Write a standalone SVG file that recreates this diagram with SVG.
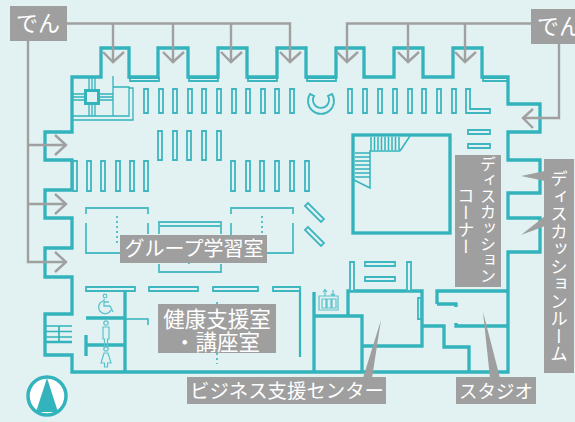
<svg xmlns="http://www.w3.org/2000/svg" width="575" height="422" viewBox="0 0 575 422">
<style>
.w{fill:none;stroke:#33b3bc;stroke-width:3.300}
.t{fill:none;stroke:#33b3bc;stroke-width:1.300}
.i{fill:none;stroke:#5cc3ca;stroke-width:1.200}
.r{fill:none;stroke:#4dbcc4;stroke-width:1.800}
.s{fill:#e2f1f2;stroke:#3db6bf;stroke-width:1.800}
.c{fill:none;stroke:#a0a0a0;stroke-width:2.400}
.b{fill:#9f9f9f}
.l{fill:#fff;font-family:"Noto Sans CJK JP","Noto Sans",sans-serif;font-size:19.500px;text-anchor:middle}
.v{writing-mode:vertical-rl;text-anchor:start;font-size:17.500px}
</style>
<rect width="575" height="422" fill="#e2f1f2"/>
<g id="walls">
<path class="s" d="M130 78h29v3h-29zM189 78h29v3h-29zM248 78h29v3h-29zM307 78h29v3h-29zM483 78h25v3h-25z"/>
<path class="w" d="M101 77V48H129V77H158V48H188V77H218V48H247V77H277V48H306V77H336V48H364V77H394V48H423V77H453V48H482V77H508V104H540V132H508V160H540V193H508V218H540V252H508V372H72V355H45V314H72V277H45V248H72V218H45V190H72V160H45V132H72V77Z"/>
<rect class="w" x="353" y="135" width="97" height="98"/>
<path class="w" d="M314 292V372M314 316H362V372M348 316V291H422V346H362M422 326H444V347H469V372M437 304V291H508M437 304H456V307M456 323V326H508"/>
<path class="w" d="M125 290V372M86 318H125M86 345H125M86 335V356"/>
<path class="t" style="stroke-width:1.500" d="M125 319H148V325"/>
<path class="w" style="stroke-width:2.200" d="M300 287V357"/>
</g>
<g id="shelves">
<path class="s" d="M144 89h4v24h-4zM159 89h4v24h-4zM173 89h4v24h-4zM188 89h4v24h-4zM202 89h4v24h-4zM217 89h4v24h-4zM232 89h4v24h-4zM246 89h4v24h-4zM261 89h4v24h-4zM275 89h4v24h-4zM290 89h4v24h-4z"/>
<path class="s" d="M348 89h4v24h-4zM363 89h4v24h-4zM378 89h4v24h-4zM393 89h4v24h-4zM408 89h4v24h-4zM422 89h4v24h-4zM437 89h4v24h-4zM452 89h4v24h-4zM466 89h4v20h20v4h-24z"/>
<path class="s" d="M158 131h4v29h-4zM173 131h4v29h-4zM187 131h4v29h-4zM202 131h4v29h-4zM217 131h4v29h-4z"/>
<path class="s" d="M73 161h4v30h-4zM87 161h4v30h-4zM101 161h4v30h-4zM116 161h4v30h-4zM130 161h4v30h-4zM144 161h4v30h-4z"/>
<path class="s" d="M231 161h4v30h-4zM246 161h4v30h-4zM260 161h4v30h-4zM275 161h4v30h-4zM290 161h4v30h-4zM305 161h4v30h-4z"/>
<path class="s" d="M468 130h22v4h-22zM468 144h22v4h-22z"/>
<path class="s" d="M305 206l3-3 16 16-3 3zM305 230l3-3 16 16-3 3z"/>
<path class="s" d="M350 262h4v29h-4zM407 262h4v29h-4zM365 262h30v4h-30zM365 277h30v4h-30zM418 298h3v21h-3z"/>
<path class="s" d="M86 287h49v4h-49zM149 287h49v4h-49zM213 287h45v4h-45zM273 287h27v4h-27z"/>
<path class="s" d="M310 94A13 13 0 1 0 332 94L328 96A8 8 0 1 1 314 96Z"/>
</g>
<g id="core">
<path class="t" d="M73 120H133V88H129M73 116H129V87H113M113 76V116"/>
<path class="t" d="M73 94H84M73 97H84M73 100H84M100 94H113M100 97H113M100 100H113M89 78V89M92 78V89M95 78V89M89 105V116M92 105V116M95 105V116"/>
<rect x="85.500" y="90.500" width="13" height="13" fill="#e2f1f2" stroke="#33b3bc" stroke-width="3"/>
<path class="t" style="stroke-width:1.500" d="M355 153H370M355 157H370M355 161H370M355 165H370M355 169H370M355 173H370M355 177H370M370 150V188L354 180M371 137V150M400 151H370M374.500 137V150M378 137V150M381.500 137V150M385 137V150M388.500 137V150M392 137V150M395.500 137V150M399 137V150M410 136L400 151"/>
<path class="t" style="stroke-width:1.700" d="M46 326H72M46 331.500H72M46 337H72M59 326V342"/>
<path class="w" style="stroke-width:2.500" d="M46 342H72"/>
</g>
<g id="rooms">
<path class="r" d="M86 214V208H148V214M86 223V253H122M148 223V234"/>
<path class="r" d="M231 214V208H293V214M231 223V235M267 253H293V223"/>
<path class="r" d="M159 234V222H221V234M159 226H221M159 264V272H221V264"/>
<path class="r" style="stroke-dasharray:2 3" d="M117 216V244M262 216V234M217 302V304M217 353V364M189 263V264"/>
</g>
<g id="toilet-icons">
<path class="i" style="stroke-width:1.300" d="M104 299V306H110L113 312M103 301a6.500 6.500 0 1 0 8 9M104 302H109"/><circle class="i" cx="105" cy="296" r="1.800"/>
<path class="i" d="M103 327H109V339H107.500V346H104.500V339H103Z"/><circle class="i" cx="106" cy="323" r="2.200"/>
<path class="i" d="M104 353H108L111 363H107.500V367H104.500V363H101Z"/><circle class="i" cx="106" cy="349" r="2.200"/>
<path class="i" d="M319 296H338V310H319ZM322 299H326V308H322ZM327 299H331V308H327ZM332 299H336V308H332ZM325 296V290M323 292L325 289.500L327 292M333 296V290M331 294L333 296L335 294"/>
</g>
<g id="connectors">
<path class="c" d="M67 23.500H290V63M113 23.500V63M173 23.500V63M231 23.500V63"/>
<path class="c" d="M103 52L113 62L124 52M163 52L173 62L184 52M221 52L231 62L242 52M280 52L290 62L301 52"/>
<path class="c" d="M534 23.500H347V62M408 23.500V62M465 23.500V62"/>
<path class="c" d="M337 52L347 62L358 52M398 52L408 62L419 52M455 52L465 62L476 52"/>
<path class="c" d="M28 41V262H65M28 145H65M28 204H65"/>
<path class="c" d="M55 135L66 145L55 155M55 194L66 204L55 214M55 252L66 262L55 272"/>
<path class="c" d="M559 44V118H522M533 109L523 118L533 128"/>
<path class="b" d="M521 176L545 171V181ZM521 235L545 216V226ZM381 320L372 378H363ZM483 312L500 378H490Z"/>
</g>
<g id="label-den-left"><rect class="b" x="10" y="6" width="57" height="35"/><text class="l" x="38" y="31" style="font-size:22px">でん</text></g>
<g id="label-den-right"><rect class="b" x="531" y="9" width="44" height="35"/><text class="l" x="537" y="34" style="font-size:22px;text-anchor:start">でん</text></g>
<g id="label-group"><rect class="b" x="120" y="235" width="147" height="28"/><text class="l" x="194" y="256" style="font-size:20px">グループ学習室</text></g>
<g id="label-health"><rect class="b" x="158" y="304" width="118" height="49"/><text class="l" style="font-size:21.500px"><tspan x="217" y="327">健康支援室</tspan><tspan x="217" y="349.500">・講座室</tspan></text></g>
<g id="label-business"><rect class="b" x="187" y="377" width="199" height="27"/><text class="l" x="287" y="398" style="font-size:19.400px">ビジネス支援センター</text></g>
<g id="label-studio"><rect class="b" x="456" y="377" width="80" height="27"/><text class="l" x="496" y="398" style="font-size:18.500px">スタジオ</text></g>
<g id="label-corner"><rect class="b" x="455" y="155" width="46" height="132"/><text class="l v" x="488" y="156" style="font-size:16px">ディスカッション</text><text class="l v" x="466" y="187" style="font-size:17px">コーナー</text></g>
<g id="label-room"><rect class="b" x="544" y="159" width="30" height="214"/><text class="l v" x="559" y="170">ディスカッションルーム</text></g>
<g id="north">
<circle cx="47" cy="396" r="19" fill="#fff" stroke="#33b3bc" stroke-width="3.500"/>
<path d="M47 378L58 412H36Z" fill="#33b3bc"/>
</g>
</svg>
